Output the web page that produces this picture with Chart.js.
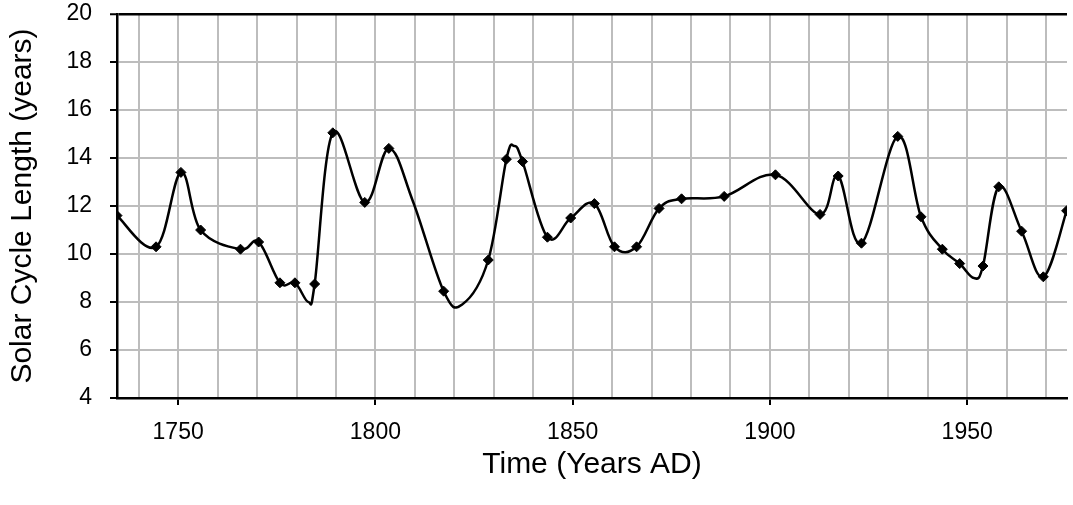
<!DOCTYPE html>
<html>
<head>
<meta charset="utf-8">
<title>Solar Cycle Length</title>
<script src="https://cdn.jsdelivr.net/npm/chart.js@4.4.1/dist/chart.umd.min.js"></script>
<style>
  html, body { margin: 0; padding: 0; background: #ffffff; }
  #wrap { width: 1073px; height: 505px; position: relative; }
</style>
</head>
<body>
<div id="wrap"><canvas id="chart"></canvas></div>
<script>
// Observed cycle lengths (years), one marker per cycle
const cycleYears = [
  1734.5, 1744.4, 1750.7, 1755.7, 1765.8, 1770.4, 1775.8, 1779.6, 1784.6,
  1789.2, 1797.3, 1803.4, 1817.3, 1828.6, 1833.2, 1837.3, 1843.6, 1849.5,
  1855.5, 1860.6, 1866.2, 1871.9, 1877.6, 1888.4, 1901.4, 1912.7, 1917.3,
  1923.2, 1932.4, 1938.3, 1943.7, 1948.1, 1954.0, 1958.0, 1963.8, 1969.3, 1975.2
];
const cycleLengths = [
  11.6, 10.3, 13.4, 11.0, 10.2, 10.5, 8.8, 8.8, 8.75,
  15.05, 12.15, 14.4, 8.45, 9.75, 13.95, 13.85, 10.7, 11.5,
  12.1, 10.3, 10.3, 11.9, 12.3, 12.4, 13.3, 11.65, 13.25,
  10.45, 14.9, 11.55, 10.2, 9.6, 9.5, 12.8, 10.95, 9.05, 11.8
];

// Extra vertices of the smoothed curve that carry no marker
const curveOnlyYears = [1783.0, 1809.5, 1822.0, 1835.2, 1951.7];
const curveOnlyLengths = [8.0, 12.2, 7.9, 14.5, 9.0];

// Axis ticks
const yearGridStep = 10;
const yearLabels = [1750, 1800, 1850, 1900, 1950];
const yearMin = 1734.5;
const yearMax = 1975.3;
const lengthMin = 4;
const lengthMax = 20;
const lengthStep = 2;

const markerPoints = cycleYears.map((x, i) => ({ x, y: cycleLengths[i] }));
const curvePoints = markerPoints
  .concat(curveOnlyYears.map((x, i) => ({ x, y: curveOnlyLengths[i] })))
  .sort((a, b) => a.x - b.x);

const gridYears = [];
for (let y = Math.ceil(yearMin / yearGridStep) * yearGridStep; y <= yearMax; y += yearGridStep) gridYears.push(y);

// Spreadsheet-style smoothing: Catmull-Rom control points set on the line's points
const smoothCurve = {
  id: 'smoothCurve',
  beforeDatasetDraw(chart, args, opts) {
    if (args.index !== opts.datasetIndex) return;
    const meta = args.meta;
    meta.dataset.updateControlPoints(chart.chartArea, meta.iScale.axis);
    const pts = meta.data;
    const n = pts.length;
    const k = opts.factor;
    for (let i = 0; i < n; i++) {
      const p = pts[i];
      const prev = pts[Math.max(i - 1, 0)];
      const next = pts[Math.min(i + 1, n - 1)];
      const tx = next.x - prev.x, ty = next.y - prev.y;
      p.cp1x = p.x - k * tx; p.cp1y = p.y - k * ty;
      p.cp2x = p.x + k * tx; p.cp2y = p.y + k * ty;
    }
  }
};

const gridGrey = '#bdbdbd';
const fontFamily = '"Liberation Sans", Arial, sans-serif';

new Chart(document.getElementById('chart'), {
  type: 'line',
  data: {
    datasets: [
      {
        label: 'Cycle length',
        data: markerPoints,
        showLine: false,
        pointStyle: 'rectRot',
        pointRadius: 5,
        pointBackgroundColor: '#000',
        pointBorderColor: '#000',
        pointBorderWidth: 1
      },
      {
        label: 'Smoothed',
        data: curvePoints,
        borderColor: '#000',
        borderWidth: 2.5,
        tension: 0.4,
        pointRadius: 0,
        fill: false
      }
    ]
  },
  plugins: [smoothCurve],
  options: {
    responsive: true,
    maintainAspectRatio: false,
    animation: false,
    events: [],
    layout: { padding: 0 },
    plugins: {
      legend: { display: false },
      tooltip: { enabled: false },
      smoothCurve: { datasetIndex: 1, factor: 0.18 }
    },
    scales: {
      x: {
        type: 'linear',
        min: yearMin,
        max: yearMax,
        afterBuildTicks: scale => { scale.ticks = gridYears.map(v => ({ value: v })); },
        afterFit: scale => {
          scale.height = 107;
          scale.paddingLeft = 0;
          scale.paddingRight = 0;
        },
        ticks: {
          autoSkip: false,
          maxRotation: 0,
          padding: 14,
          color: '#000',
          font: { family: fontFamily, size: 23 },
          callback: v => (yearLabels.includes(v) ? String(v) : '')
        },
        grid: {
          color: gridGrey,
          lineWidth: 2,
          drawTicks: true,
          tickLength: 7,
          tickWidth: 2,
          tickColor: ctx => (ctx.tick && yearLabels.includes(ctx.tick.value) ? '#000' : 'rgba(0,0,0,0)')
        },
        border: { display: true, color: '#000', width: 2.5 },
        title: {
          display: true,
          text: 'Time (Years AD)',
          color: '#000',
          font: { family: fontFamily, size: 30 },
          padding: { top: 0, bottom: 22 }
        }
      },
      y: {
        min: lengthMin,
        max: lengthMax,
        afterFit: scale => {
          scale.width = 117;
          scale.paddingTop = 14;
          scale.paddingBottom = 0;
        },
        ticks: {
          stepSize: lengthStep,
          padding: 18,
          color: '#000',
          font: { family: fontFamily, size: 23 }
        },
        grid: {
          color: ctx => (ctx.tick && ctx.tick.value === lengthMax ? '#000' : gridGrey),
          lineWidth: ctx => (ctx.tick && ctx.tick.value === lengthMax ? 2.5 : 2),
          drawTicks: true,
          tickLength: 7,
          tickWidth: 2,
          tickColor: '#000'
        },
        border: { display: true, color: '#000', width: 2.5 },
        title: {
          display: true,
          text: 'Solar Cycle Length (years)',
          color: '#000',
          font: { family: fontFamily, size: 30 },
          padding: { top: 5, bottom: 0 }
        }
      }
    }
  }
});
</script>
</body>
</html>
